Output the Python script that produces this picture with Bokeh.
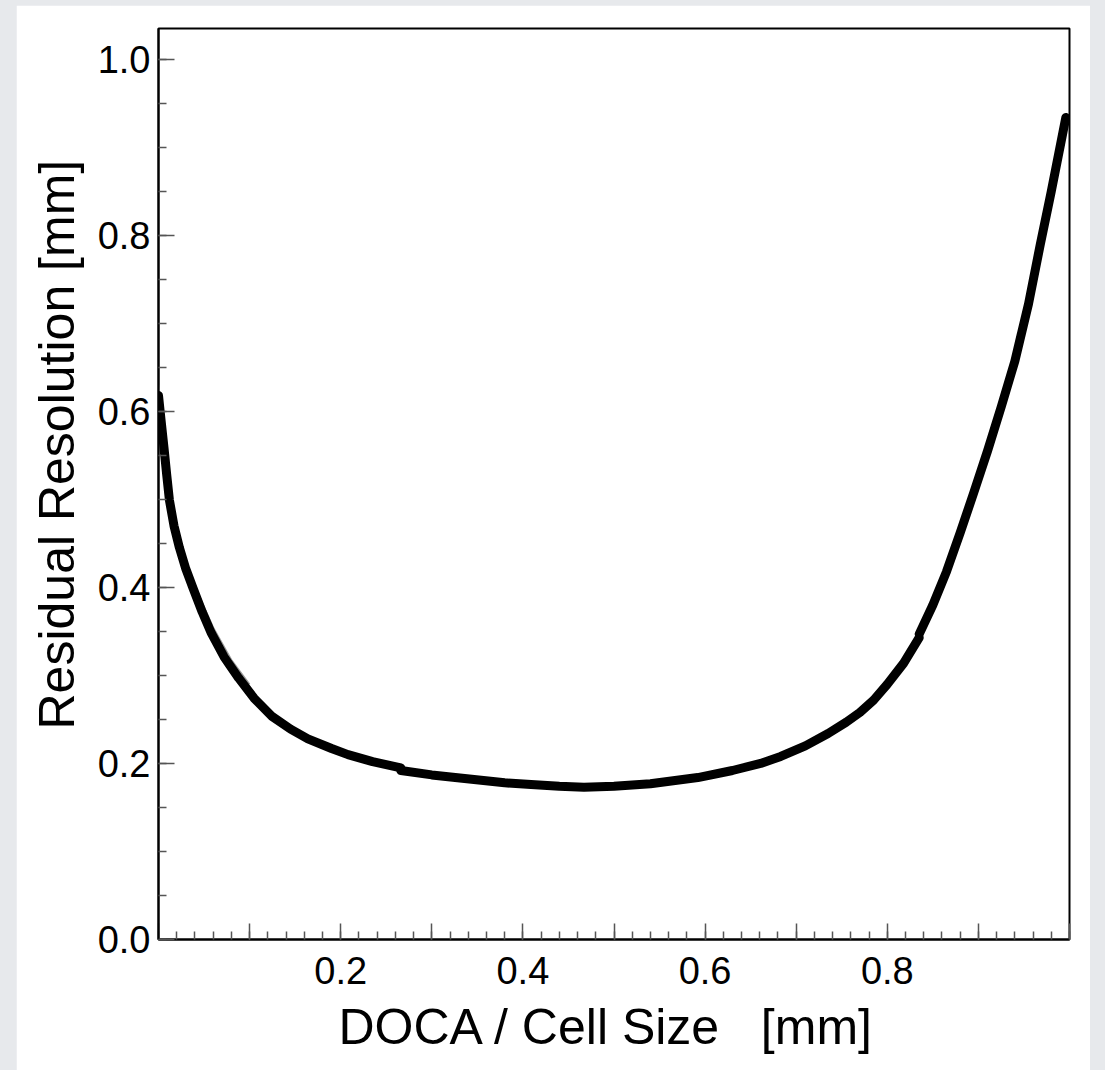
from bokeh.plotting import figure
from bokeh.models import FixedTicker, Range1d, NumeralTickFormatter, Title
from bokeh.embed import file_html
from bokeh.resources import INLINE

# ---- data ----
seg1_x = [0.0, 0.003, 0.006, 0.009, 0.012, 0.017, 0.023, 0.030, 0.038, 0.048, 0.058,
          0.072, 0.088, 0.105, 0.124, 0.145, 0.164, 0.190, 0.208, 0.235, 0.266]
seg1_y = [0.618, 0.588, 0.559, 0.528, 0.499, 0.470, 0.445, 0.421, 0.399, 0.372, 0.348,
          0.321, 0.297, 0.274, 0.254, 0.239, 0.228, 0.217, 0.210, 0.202, 0.195]
seg2_x = [0.266, 0.30, 0.336, 0.38, 0.409, 0.44, 0.467, 0.50, 0.54, 0.592, 0.63,
          0.661, 0.683, 0.71, 0.735, 0.755, 0.77, 0.785, 0.80, 0.818, 0.835]
seg2_y = [0.192, 0.187, 0.183, 0.178, 0.176, 0.174, 0.173, 0.174, 0.177, 0.184, 0.192,
          0.200, 0.208, 0.220, 0.234, 0.247, 0.258, 0.272, 0.290, 0.314, 0.343]
seg3_x = [0.835, 0.85, 0.865, 0.88, 0.895, 0.91, 0.925, 0.94, 0.955, 0.968, 0.98, 0.996]
seg3_y = [0.347, 0.380, 0.418, 0.462, 0.508, 0.555, 0.605, 0.657, 0.722, 0.790, 0.850, 0.934]
fit_x = [0.0, 0.005, 0.012, 0.02, 0.03, 0.045, 0.06, 0.08, 0.1]
fit_y = [0.63, 0.58, 0.515, 0.468, 0.43, 0.39, 0.355, 0.318, 0.29]

x_major = [0.0, 0.1, 0.2, 0.3, 0.4, 0.5, 0.6, 0.7, 0.8, 0.9, 1.0]
x_minor = [i * 0.02 for i in range(51)]
x_labels = {0.0: "", 0.1: "", 0.3: "", 0.5: "", 0.7: "", 0.9: "", 1.0: "",
            0.2: "0.2", 0.4: "0.4", 0.6: "0.6", 0.8: "0.8"}
y_major = [0.0, 0.2, 0.4, 0.6, 0.8, 1.0]
y_minor = [i * 0.05 for i in range(21)]

x_title = "DOCA / Cell Size\u00a0\u00a0\u00a0[mm]"
y_title = "Residual Resolution [mm]"

FONT = "Liberation Sans"

p = figure(width=1074, height=1065, output_backend="svg", toolbar_location=None,
           x_range=Range1d(0.0, 1.0), y_range=Range1d(0.0, 1.035),
           min_border_left=141, min_border_right=21, min_border_top=23, min_border_bottom=131,
           background_fill_color="white", border_fill_color="white",
           outline_line_color="black", outline_line_width=2,
           margin=(5, 15, 0, 16))
p.grid.visible = False

for ax in (p.xaxis[0], p.yaxis[0]):
    ax.axis_line_color = "black"
    ax.axis_line_width = 2
    ax.major_tick_in = 16
    ax.major_tick_out = 0
    ax.minor_tick_in = 8
    ax.minor_tick_out = 0
    ax.major_tick_line_color = "#555555"
    ax.minor_tick_line_color = "#555555"
    ax.major_tick_line_width = 1.5
    ax.minor_tick_line_width = 1.5
    ax.major_label_text_font = FONT
    ax.major_label_text_font_size = "38px"
    ax.major_label_text_color = "black"

p.xaxis[0].ticker = FixedTicker(ticks=x_major, minor_ticks=x_minor)
p.xaxis[0].major_label_overrides = x_labels
p.xaxis[0].major_label_standoff = 17
p.yaxis[0].ticker = FixedTicker(ticks=y_major, minor_ticks=y_minor)
p.yaxis[0].formatter = NumeralTickFormatter(format="0.0")
p.yaxis[0].major_label_standoff = 8

p.line(fit_x, fit_y, line_color="#9a9a9a", line_width=1.5)
for sx, sy in ((seg1_x, seg1_y), (seg2_x, seg2_y), (seg3_x, seg3_y)):
    p.line(sx, sy, line_color="black", line_width=9, line_join="round", line_cap="round")

p.add_layout(Title(text=x_title, text_font=FONT, text_font_size="50px",
                   text_font_style="normal", text_color="black",
                   align="left", offset=180, standoff=21), "below")
p.add_layout(Title(text=y_title, text_font=FONT, text_font_size="50px",
                   text_font_style="normal", text_color="black",
                   align="left", offset=210, standoff=20), "left")

html = file_html(p, INLINE)
style = "<style>html,body{margin:0;padding:0;background:#e7e9ec;}</style>"
html = html.replace("</head>", style + "</head>", 1)
open("out.html", "w").write(html)
